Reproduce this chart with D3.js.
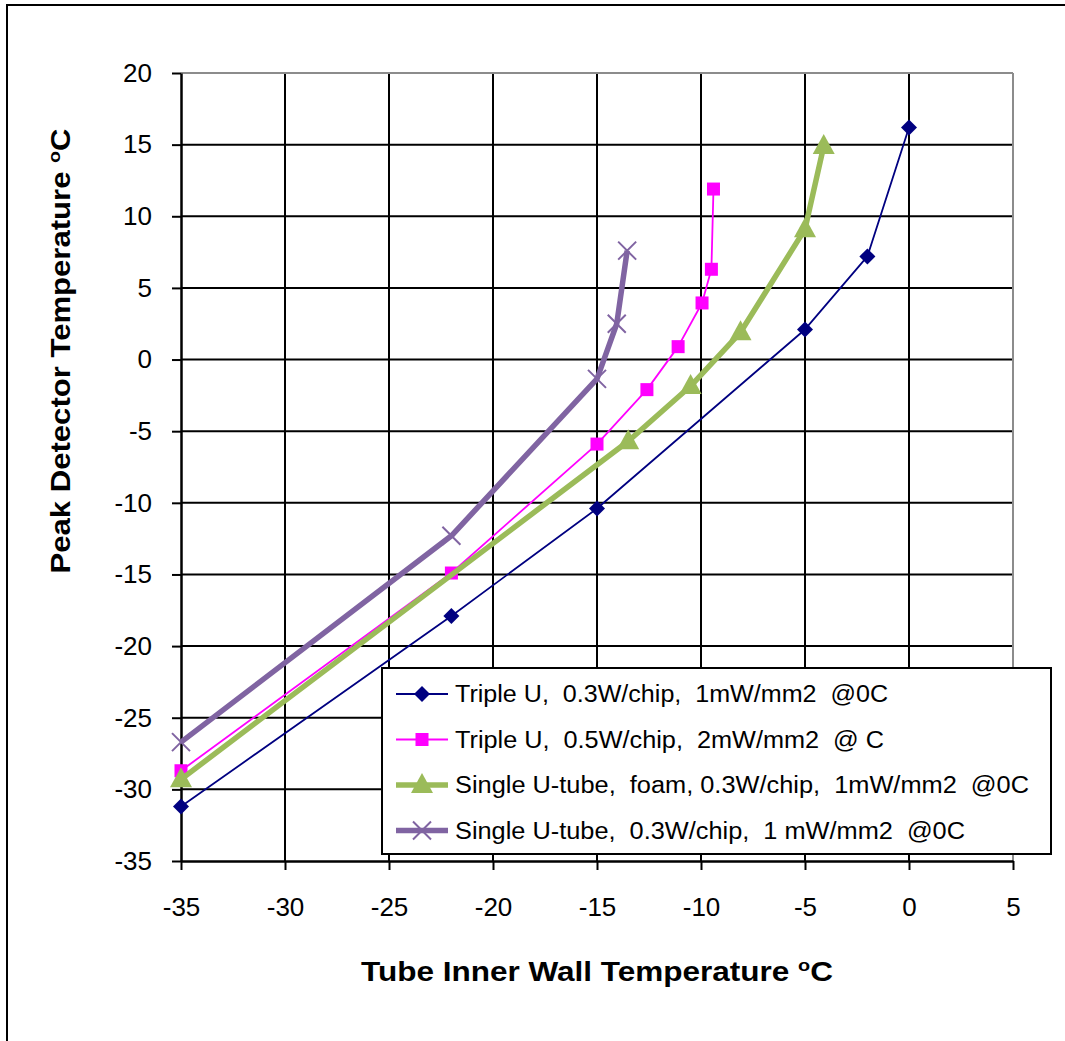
<!DOCTYPE html>
<html>
<head>
<meta charset="utf-8">
<script src="https://cdn.jsdelivr.net/npm/d3@7"></script>
<style>
  html, body { margin: 0; padding: 0; background: #fff; }
  svg { display: block; font-family: "Liberation Sans", Arial, sans-serif; }
</style>
</head>
<body>
<svg id="chart" width="1065" height="1041"></svg>
<script>
// Tube inner wall temperature (x) vs peak detector temperature (y), per cooling configuration
const seriesNames = [
  "Triple U,  0.3W/chip,  1mW/mm2  @0C",
  "Triple U,  0.5W/chip,  2mW/mm2  @ C",
  "Single U-tube,  foam, 0.3W/chip,  1mW/mm2  @0C",
  "Single U-tube,  0.3W/chip,  1 mW/mm2  @0C"
];
const tripleU03X = [-35, -22, -15, -5, -2, 0];
const tripleU03Y = [-31.2, -17.9, -10.4, 2.1, 7.2, 16.2];
const tripleU05X = [-35, -22, -15, -12.6, -11.1, -9.95, -9.5, -9.4];
const tripleU05Y = [-28.7, -14.9, -5.9, -2.1, 0.9, 3.95, 6.3, 11.9];
const singleFoamX = [-35, -13.5, -10.5, -8.1, -5, -4.1];
const singleFoamY = [-29.3, -5.7, -1.85, 1.9, 9.1, 14.9];
const singleX = [-35, -22, -15, -14.05, -13.55];
const singleY = [-26.7, -12.3, -1.35, 2.5, 7.6];

const xTicks = [-35, -30, -25, -20, -15, -10, -5, 0, 5];
const yTicks = [20, 15, 10, 5, 0, -5, -10, -15, -20, -25, -30, -35];

const svg = d3.select("#chart");

// outer frame
svg.append("rect").attr("x", 7).attr("y", 5).attr("width", 1080).attr("height", 1060)
  .attr("fill", "none").attr("stroke", "#000").attr("stroke-width", 2);

const plotLeft = 181, plotRight = 1013, plotTop = 73, plotBottom = 861;
const x = d3.scaleLinear().domain([-35, 5]).range([plotLeft, plotRight]);
const y = d3.scaleLinear().domain([-35, 20]).range([plotBottom, plotTop]);

// grid
const grid = svg.append("g");
grid.selectAll("line.v").data(xTicks.slice(1, -1)).join("line")
  .attr("x1", d => x(d)).attr("x2", d => x(d)).attr("y1", plotTop).attr("y2", plotBottom)
  .attr("stroke", "#000").attr("stroke-width", 2);
grid.selectAll("line.h").data(yTicks.slice(1, -1)).join("line")
  .attr("y1", d => y(d)).attr("y2", d => y(d)).attr("x1", plotLeft).attr("x2", plotRight)
  .attr("stroke", "#000").attr("stroke-width", 2);
// plot area border
grid.append("line").attr("x1", plotLeft).attr("x2", plotRight).attr("y1", plotTop).attr("y2", plotTop)
  .attr("stroke", "#8c8c8c").attr("stroke-width", 2);
grid.append("line").attr("x1", plotRight).attr("x2", plotRight).attr("y1", plotTop).attr("y2", plotBottom)
  .attr("stroke", "#8c8c8c").attr("stroke-width", 2);

// axes
const fmt = d => String(d);
const xAxis = svg.append("g").attr("transform", `translate(0,${plotBottom})`)
  .call(d3.axisBottom(x).tickValues(xTicks).tickFormat(fmt).tickSize(9).tickPadding(28).tickSizeOuter(0));
const yAxis = svg.append("g").attr("transform", `translate(${plotLeft},0)`)
  .call(d3.axisLeft(y).tickValues(yTicks).tickFormat(fmt).tickSize(9).tickPadding(20).tickSizeOuter(0));
[xAxis, yAxis].forEach(a => {
  a.select(".domain").attr("stroke", "#000").attr("stroke-width", 2.5);
  a.selectAll(".tick line").attr("stroke", "#000").attr("stroke-width", 2);
  a.selectAll(".tick text").attr("font-size", 26).attr("fill", "#000")
    .attr("font-family", "'Liberation Sans', Arial, sans-serif");
});
xAxis.selectAll(".tick text").attr("dy", "0.71em");

// axis titles
const xt = svg.append("text").attr("x", 597).attr("y", 981).attr("text-anchor", "middle")
  .attr("font-size", 27).attr("font-weight", "bold")
  .attr("textLength", 472).attr("lengthAdjust", "spacingAndGlyphs");
xt.append("tspan").text("Tube Inner Wall  Temperature ");
xt.append("tspan").attr("font-size", 17).attr("dy", -10).text("o");
xt.append("tspan").attr("dy", 10).text("C");

const yt = svg.append("text").attr("transform", "translate(70,351) rotate(-90)")
  .attr("text-anchor", "middle").attr("font-size", 27).attr("font-weight", "bold")
  .attr("textLength", 445).attr("lengthAdjust", "spacingAndGlyphs");
yt.append("tspan").text("Peak Detector Temperature ");
yt.append("tspan").attr("font-size", 17).attr("dy", -10).text("o");
yt.append("tspan").attr("dy", 10).text("C");

// series
const series = [
  { name: seriesNames[0], xs: tripleU03X, ys: tripleU03Y, color: "#000080", width: 1.8, marker: "diamond" },
  { name: seriesNames[1], xs: tripleU05X, ys: tripleU05Y, color: "#FF00FF", width: 1.8, marker: "square" },
  { name: seriesNames[2], xs: singleFoamX, ys: singleFoamY, color: "#9BBB59", width: 5.5, marker: "triangle" },
  { name: seriesNames[3], xs: singleX, ys: singleY, color: "#8064A2", width: 5.5, marker: "cross" }
];
const legendTextWidths = [433, 429, 574, 510];

function drawMarker(g, type, cx, cy, color) {
  if (type === "diamond") {
    g.append("path").attr("d", `M${cx},${cy-8}L${cx+8},${cy}L${cx},${cy+8}L${cx-8},${cy}Z`).attr("fill", color);
  } else if (type === "square") {
    g.append("rect").attr("x", cx-6.5).attr("y", cy-6.5).attr("width", 13).attr("height", 13).attr("fill", color);
  } else if (type === "triangle") {
    g.append("path").attr("d", `M${cx},${cy-12}L${cx+11},${cy+8}L${cx-11},${cy+8}Z`).attr("fill", color);
  } else if (type === "cross") {
    g.append("path").attr("d", `M${cx-9},${cy-9}L${cx+9},${cy+9}M${cx-9},${cy+9}L${cx+9},${cy-9}`)
      .attr("stroke", color).attr("stroke-width", 2);
  }
}

const line = d3.line().x(d => x(d[0])).y(d => y(d[1]));
series.forEach(s => {
  const pts = s.xs.map((v, i) => [v, s.ys[i]]);
  const g = svg.append("g");
  g.append("path").datum(pts).attr("d", line).attr("fill", "none")
    .attr("stroke", s.color).attr("stroke-width", s.width).attr("stroke-linejoin", "round");
  pts.forEach(p => drawMarker(g, s.marker, x(p[0]), y(p[1]), s.color));
});

// legend
const lg = svg.append("g");
lg.append("rect").attr("x", 382).attr("y", 668).attr("width", 669).attr("height", 186)
  .attr("fill", "#fff").attr("stroke", "#000").attr("stroke-width", 2);
series.forEach((s, i) => {
  const cy = 694 + i * 45.5;
  lg.append("line").attr("x1", 396).attr("x2", 448).attr("y1", cy).attr("y2", cy)
    .attr("stroke", s.color).attr("stroke-width", s.width);
  drawMarker(lg, s.marker, 422, cy, s.color);
  lg.append("text").attr("x", 455).attr("y", cy).attr("dy", "0.36em")
    .attr("font-size", 23).attr("fill", "#000").style("white-space", "pre")
    .attr("textLength", legendTextWidths[i]).attr("lengthAdjust", "spacingAndGlyphs")
    .text(s.name);
});
</script>
</body>
</html>
